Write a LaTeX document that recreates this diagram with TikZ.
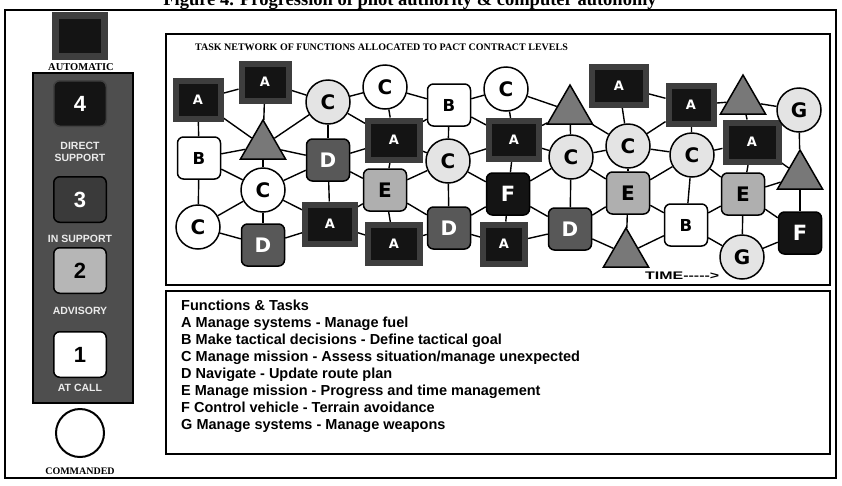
\documentclass[tikz,border=0pt]{standalone}
\usepackage{fontspec}
\setmainfont{Liberation Sans}
\newfontfamily\serifb{Liberation Serif}
\newfontfamily\dejav{DejaVu Sans}
\usetikzlibrary{shapes.geometric,backgrounds}
\definecolor{panelgray}{RGB}{78,78,78}
\definecolor{aframe}{RGB}{62,62,62}
\definecolor{ablack}{RGB}{20,20,20}
\definecolor{dgray}{RGB}{88,88,88}
\definecolor{egray}{RGB}{175,175,175}
\definecolor{tgray}{RGB}{120,120,120}
\definecolor{cgray}{RGB}{228,228,228}
\definecolor{lthree}{RGB}{58,58,58}
\definecolor{ltwo}{RGB}{182,182,182}
\definecolor{lbltxt}{RGB}{235,235,235}
\tikzset{
  edge/.style={line width=1.4pt, black},
  asq/.style 2 args={rectangle, fill=ablack, draw=aframe, line width=6pt,
    minimum width=#1pt, minimum height=#2pt, inner sep=0pt, text=white,
    font=\dejav\bfseries\fontsize{13}{13}\selectfont},
  rsq/.style={rectangle, rounded corners=6pt, draw=black, line width=1.5pt,
    minimum width=43pt, minimum height=42pt, inner sep=0pt,
    font=\dejav\bfseries\fontsize{20}{20}\selectfont},
  bsq/.style={rsq, fill=white, font=\dejav\bfseries\fontsize{16.5}{16.5}\selectfont},
  dsq/.style={rsq, fill=dgray, text=white},
  esq/.style={rsq, fill=egray},
  fsq/.style={rsq, fill=ablack, text=white, font=\dejav\bfseries\fontsize{21}{21}\selectfont},
  cwh/.style={circle, draw=black, line width=1.5pt, fill=white, minimum size=44pt,
    inner sep=0pt, font=\dejav\bfseries\fontsize{20}{20}\selectfont},
  cgr/.style={cwh, fill=cgray},
  tri/.style={regular polygon, regular polygon sides=3, minimum size=52pt, inner sep=0pt,
    draw=black, line width=1.5pt, fill=tgray},
  lvl/.style={rectangle, rounded corners=6pt, draw=black, line width=1.5pt,
    minimum width=52.5pt, minimum height=45.5pt, inner sep=0pt,
    font=\bfseries\fontsize{22}{22}\selectfont},
  lbl/.style={anchor=base, text=lbltxt, font=\bfseries\fontsize{10.5}{10.5}\selectfont, inner sep=0pt},
  serlbl/.style={anchor=base, font=\serifb\bfseries\fontsize{10.5}{10.5}\selectfont, inner sep=0pt},
  leg/.style={anchor=base west, font=\bfseries\fontsize{14.5}{17}\selectfont, inner sep=0pt},
}
\begin{document}
\begin{tikzpicture}[x=1pt,y=-1pt]
\useasboundingbox (0,0) rectangle (842,485);
\clip (0,0) rectangle (842,485);
\begin{scope}[on background layer]
\fill[white] (0,0) rectangle (842,485);
\end{scope}
% title (cut at the top edge, as in the reference)
\node[anchor=base, inner sep=0pt, font=\serifb\bfseries\fontsize{18.5}{18.5}\selectfont] (title) at (410,5)
  {Figure 4. Progression of pilot authority \& computer autonomy};
% outer frame
\draw[line width=2.2pt] (5,10) rectangle (836,478);

% left panel
\node[draw=black, fill=panelgray, line width=1.2pt, minimum width=100pt, minimum height=330pt, inner sep=0pt] (panel) at (83,238) {};
\node[fill=ablack, draw=aframe, line width=7pt, minimum width=49pt, minimum height=41pt, inner sep=0pt] (auto) at (80,36) {};
\node[serlbl] (autolbl) at (81,70) {AUTOMATIC};
\node[lvl, fill=ablack, draw=black!75, text=white] (lev4) at (80,103.5) {4};
\node[lbl] (ds1) at (80,149) {DIRECT};
\node[lbl] (ds2) at (80,161) {SUPPORT};
\node[lvl, fill=lthree, text=white] (lev3) at (80,199.5) {3};
\node[lbl] (ins) at (80,242) {IN SUPPORT};
\node[lvl, fill=ltwo] (lev2) at (80,270.5) {2};
\node[lbl] (adv) at (80,314) {ADVISORY};
\node[lvl, fill=white] (lev1) at (80,354.5) {1};
\node[lbl] (atc) at (80,391) {AT CALL};
\node[circle, draw=black, line width=2pt, fill=white, minimum size=48pt] (cmd) at (80,433) {};
\node[serlbl, font=\serifb\bfseries\fontsize{10}{10}\selectfont] (cmdlbl) at (80,474) {COMMANDED};

% network and legend boxes
\draw[line width=1.5pt] (166,34) rectangle (830,285);
\draw[line width=1.5pt] (166,291) rectangle (830,454);
\node[anchor=base west, inner sep=0pt, font=\serifb\bfseries\fontsize{10}{10}\selectfont] (hdr) at (195,50)
  {TASK NETWORK OF FUNCTIONS ALLOCATED TO PACT CONTRACT LEVELS};

% network nodes
\node[asq={45}{38}] (A1) at (198,100) {A};
\node[asq={47}{37}] (A2) at (265,82) {A};
\node[tri] (T1) at (263,146) {};
\node[bsq] (B1) at (199,158) {B};
\node[cwh] (C1) at (198,227) {C};
\node[cwh] (C2) at (263,190) {C};
\node[dsq] (D1) at (263,245) {D};
\node[cgr] (C3) at (328,102) {C};
\node[dsq] (D2) at (328,160) {D};
\node[asq={50}{39}] (A3) at (330,224) {A};
\node[cwh] (C4) at (385,87) {C};
\node[asq={52}{39}] (A4) at (394,140) {A};
\node[esq] (E1) at (385,190) {E};
\node[asq={52}{38}] (A5) at (394,244) {A};
\node[bsq] (B2) at (449,105) {B};
\node[cgr] (C5) at (448,161) {C};
\node[dsq] (D3) at (449,228) {D};
\node[cwh] (C6) at (506,89) {C};
\node[asq={50}{38}] (A6) at (514,140) {A};
\node[fsq] (F1) at (508,194) {F};
\node[asq={42}{39}] (A7) at (504,244) {A};
\node[tri] (T2) at (570,111) {};
\node[cgr] (C7) at (571,157) {C};
\node[dsq] (D4) at (570,229) {D};
\node[asq={54}{38}] (A8) at (619,86) {A};
\node[cgr] (C8) at (628,146) {C};
\node[esq] (E2) at (628,193) {E};
\node[tri] (T3) at (626,254) {};
\node[asq={45}{38}] (A9) at (691,105) {A};
\node[cgr] (C9) at (692,155) {C};
\node[bsq] (B3) at (686,225) {B};
\node[tri] (T4) at (743,101) {};
\node[asq={53}{39}] (A10) at (752,142) {A};
\node[esq] (E3) at (743,194) {E};
\node[cgr] (G1) at (799,110) {G};
\node[tri] (T5) at (800,176) {};
\node[fsq] (F2) at (800,233) {F};
\node[cgr] (G2) at (742,257) {G};

\node[anchor=base west, inner sep=0pt, font=\bfseries\fontsize{11}{11}\selectfont] (time) at (645,279)
  {\scalebox{1.45}[1]{TIME-{}-{}-{}-{}-{}>}};

% connectors
\begin{scope}[on background layer]
\foreach \a/\b in {A1/A2, A1/B1, A1/T1, A2/T1, A2/C3, T1/C3, T1/B1, T1/D2, T1/C2,
  B1/C1, B1/C2, C1/C2, C1/D1, C2/D1, C2/D2, C2/A3, D1/A3, C3/D2, C3/C4, C3/A4,
  D2/A3, D2/A4, D2/E1, A3/E1, A3/A5, C4/A4, C4/B2, A4/E1, A4/C5, A4/B2, E1/A5,
  E1/C5, E1/D3, A5/D3, B2/C5, B2/C6, B2/A6, C5/A6, C5/D3, C5/F1, D3/F1, D3/A7,
  C6/A6, C6/T2, A6/F1, A6/T2, A6/C7, F1/A7, F1/C7, F1/D4, A7/D4, T2/C7, T2/C8,
  C7/C8, C7/D4, C7/E2, A8/C8, A8/A9, C8/E2, C8/C9, C8/A9, D4/E2, D4/T3, E2/T3,
  E2/C9, E2/B3, T3/B3, A9/C9, A9/T4, C9/B3, C9/A10, C9/E3, T4/A10, T4/G1,
  A10/E3, A10/T5, B3/E3, B3/G2, E3/G2, E3/T5, E3/F2, G1/T5, T5/F2, G2/F2}
  \draw[edge] (\a) -- (\b);
\end{scope}

% legend
\node[leg] (lg0) at (181,310) {Functions \& Tasks};
\node[leg] (lg1) at (181,327) {A Manage systems - Manage fuel};
\node[leg] (lg2) at (181,344) {B Make tactical decisions - Define tactical goal};
\node[leg] (lg3) at (181,361) {C Manage mission - Assess situation/manage unexpected};
\node[leg] (lg4) at (181,378) {D Navigate - Update route plan};
\node[leg] (lg5) at (181,395) {E Manage mission - Progress and time management};
\node[leg] (lg6) at (181,412) {F Control vehicle - Terrain avoidance};
\node[leg] (lg7) at (181,429) {G Manage systems - Manage weapons};
\end{tikzpicture}
\end{document}
